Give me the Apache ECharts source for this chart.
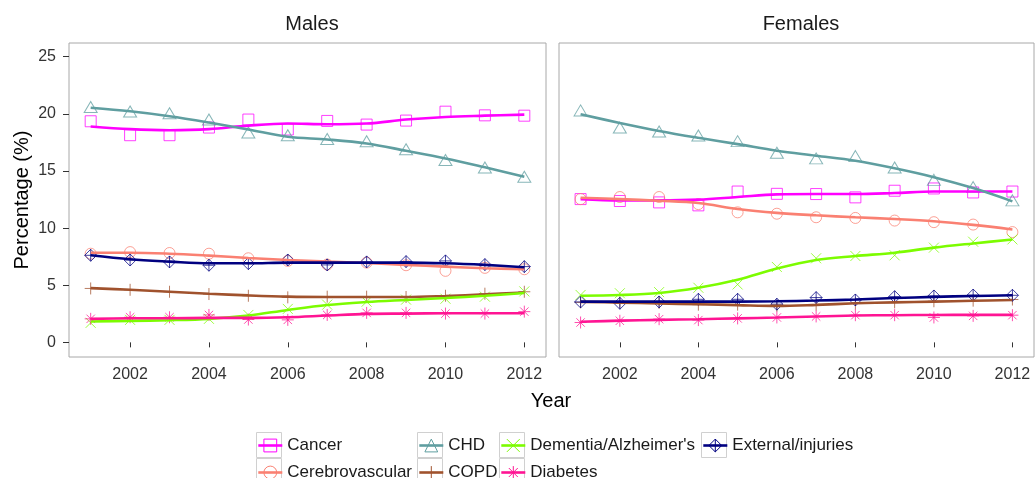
<!DOCTYPE html>
<html>
<head>
<meta charset="utf-8">
<script src="https://cdn.jsdelivr.net/npm/echarts@6/dist/echarts.min.js"></script>
<style>
  html, body { margin: 0; padding: 0; background: #fff; }
  #chart { width: 1035px; height: 478px; }
</style>
</head>
<body>
<div id="chart"></div>
<script>
var years = [2001, 2002, 2003, 2004, 2005, 2006, 2007, 2008, 2009, 2010, 2011, 2012];
var yTicks = [0, 5, 10, 15, 20, 25];
var xTicks = [2002, 2004, 2006, 2008, 2010, 2012];
var panels = ["Males", "Females"];
var causes = ["Cancer", "Cerebrovascular", "CHD", "COPD", "Dementia/Alzheimer's", "Diabetes", "External/injuries"];

// Males: observed points and the smoothed fit
var cancerM = [19.35, 18.13, 18.13, 18.8, 19.5, 18.63, 19.38, 19.06, 19.41, 20.19, 19.87, 19.84];
var cancerMFit = [18.89, 18.66, 18.57, 18.66, 18.97, 19.15, 19.09, 19.15, 19.5, 19.73, 19.84, 19.93];
var cereM = [7.76, 7.9, 7.82, 7.76, 7.36, 7.13, 6.81, 6.98, 6.75, 6.26, 6.52, 6.4];
var cereMFit = [7.85, 7.85, 7.76, 7.59, 7.39, 7.21, 7.07, 6.95, 6.78, 6.63, 6.49, 6.4];
var chdM = [20.6, 20.2, 20.05, 19.5, 18.37, 18.13, 17.8, 17.6, 16.9, 15.96, 15.3, 14.5];
var chdMFit = [20.54, 20.22, 19.79, 19.24, 18.63, 17.99, 17.76, 17.41, 16.77, 16.1, 15.32, 14.5];
var copdM = [4.72, 4.6, 4.43, 4.23, 4.08, 3.94, 4.0, 4.0, 3.97, 4.08, 4.26, 4.43];
var copdMFit = [4.75, 4.6, 4.43, 4.26, 4.11, 4.0, 3.97, 3.97, 3.97, 4.06, 4.2, 4.37];
var demM = [1.71, 1.97, 1.97, 2.06, 2.4, 2.93, 3.3, 3.56, 3.74, 3.82, 4.0, 4.46];
var demMFit = [1.83, 1.88, 1.94, 2.06, 2.35, 2.84, 3.27, 3.53, 3.71, 3.88, 4.08, 4.32];
var diabM = [2.06, 2.2, 2.2, 2.4, 2.0, 1.97, 2.4, 2.58, 2.58, 2.52, 2.52, 2.69];
var diabMFit = [2.06, 2.11, 2.11, 2.14, 2.14, 2.2, 2.35, 2.49, 2.52, 2.55, 2.55, 2.55];
var extM = [7.62, 7.21, 7.04, 6.75, 6.89, 7.21, 6.78, 7.04, 7.07, 7.13, 6.81, 6.63];
var extMFit = [7.62, 7.27, 7.07, 6.92, 6.92, 6.98, 6.98, 6.98, 6.98, 6.92, 6.78, 6.58];

// Females
var cancerF = [12.54, 12.37, 12.25, 11.99, 13.2, 13.0, 12.98, 12.69, 13.27, 13.47, 13.12, 13.2];
var cancerFFit = [12.54, 12.43, 12.43, 12.49, 12.72, 12.95, 12.98, 12.98, 13.07, 13.2, 13.2, 13.2];
var cereF = [12.54, 12.72, 12.72, 12.1, 11.38, 11.26, 10.95, 10.89, 10.66, 10.52, 10.31, 9.65];
var cereFFit = [12.66, 12.54, 12.4, 12.2, 11.67, 11.33, 11.12, 10.95, 10.8, 10.6, 10.28, 9.88];
var chdF = [20.3, 18.8, 18.45, 18.1, 17.61, 16.6, 16.1, 16.3, 15.3, 14.22, 13.59, 12.43];
var chdFFit = [19.96, 19.2, 18.5, 17.9, 17.35, 16.77, 16.34, 15.9, 15.24, 14.46, 13.5, 12.34];
var copdF = [3.5, 3.5, 3.45, 3.3, 3.3, 3.2, 3.3, 3.4, 3.5, 3.6, 3.65, 3.75];
var copdFFit = [3.54, 3.48, 3.4, 3.34, 3.26, 3.19, 3.28, 3.42, 3.5, 3.57, 3.64, 3.71];
var demF = [4.15, 4.3, 4.4, 4.78, 5.07, 6.6, 7.36, 7.56, 7.62, 8.29, 8.81, 9.01];
var demFFit = [4.08, 4.14, 4.32, 4.78, 5.48, 6.46, 7.21, 7.56, 7.85, 8.29, 8.66, 9.01];
var diabF = [1.74, 1.89, 2.03, 1.95, 2.1, 2.18, 2.27, 2.38, 2.38, 2.18, 2.32, 2.38];
var diabFFit = [1.8, 1.9, 1.97, 2.03, 2.1, 2.18, 2.27, 2.35, 2.38, 2.4, 2.41, 2.41];
var extF = [3.54, 3.42, 3.54, 3.77, 3.77, 3.34, 3.92, 3.71, 4.0, 4.06, 4.14, 4.12];
var extFFit = [3.57, 3.57, 3.57, 3.57, 3.57, 3.6, 3.66, 3.75, 3.88, 3.98, 4.06, 4.12];

var points = [
  [cancerM, cereM, chdM, copdM, demM, diabM, extM],
  [cancerF, cereF, chdF, copdF, demF, diabF, extF]
];
var fits = [
  [cancerMFit, cereMFit, chdMFit, copdMFit, demMFit, diabMFit, extMFit],
  [cancerFFit, cereFFit, chdFFit, copdFFit, demFFit, diabFFit, extFFit]
];

var colors = ["#FF00FF", "#FA8072", "#5F9EA0", "#A0522D", "#7CFC00", "#FF1493", "#000080"];
var symbols = [
  "rect",
  "circle",
  "triangle",
  "path://M5,0L5,10M0,5L10,5",                                  // plus
  "path://M0,0L10,10M10,0L0,10",                                // cross
  "path://M0,5L10,5M5,0L5,10M1.5,1.5L8.5,8.5M8.5,1.5L1.5,8.5",  // asterisk
  "path://M5,0L10,5L5,10L0,5ZM5,0L5,10M0,5L10,5"                // diamond plus
];
var symbolSizes = [11, 11, [13, 11], 12, 10, 12, 12];

var FONT = "'Liberation Sans', Arial, sans-serif";

function pairs(vals) {
  return vals.map(function (v, i) { return [years[i], v]; });
}

var series = [];
// lines first so the legend picks up the line + symbol icon
for (var p = 0; p < 2; p++) {
  causes.forEach(function (name, k) {
    series.push({
      name: name,
      type: "line",
      xAxisIndex: p,
      yAxisIndex: p,
      data: pairs(fits[p][k]),
      smooth: 0.35,
      showSymbol: false,
      symbol: symbols[k],
      symbolSize: symbolSizes[k],
      lineStyle: { color: colors[k], width: 2.6 },
      itemStyle: { color: colors[k] },
      silent: true,
      z: 3 + k * 0.01
    });
  });
}
for (var p2 = 0; p2 < 2; p2++) {
  causes.forEach(function (name, k) {
    series.push({
      name: name,
      type: "scatter",
      xAxisIndex: p2,
      yAxisIndex: p2,
      data: pairs(points[p2][k]),
      symbol: symbols[k],
      symbolSize: symbolSizes[k],
      itemStyle: {
        color: "rgba(0,0,0,0)",
        borderColor: colors[k],
        borderWidth: 1,
        opacity: 0.75
      },
      silent: true,
      z: 2 + k * 0.01
    });
  });
}

function legendItem(k) {
  return {
    name: causes[k],
    itemStyle: { color: "rgba(0,0,0,0)", borderColor: colors[k], borderWidth: 1 },
    lineStyle: { color: colors[k], width: 2.6 }
  };
}
var legendCols = [[0, 1], [2, 3], [4, 5], [6]];
var legendLeft = [257, 418, 500, 702];
var legends = legendCols.map(function (col, i) {
  return {
    orient: "vertical",
    left: legendLeft[i],
    top: 437,
    height: 60,
    padding: 0,
    itemGap: 10,
    itemWidth: 24,
    itemHeight: 16,
    selectedMode: false,
    data: col.map(legendItem),
    textStyle: { fontFamily: FONT, fontSize: 17, color: "#1a1a1a", lineHeight: 16 }
  };
});

// grey key boxes behind the legend symbols
var keyBoxes = [[256, 432], [256, 458], [417, 432], [417, 458], [499, 432], [499, 458], [701, 432]];
var graphics = keyBoxes.map(function (b) {
  return {
    type: "rect",
    shape: { x: b[0] + 0.5, y: b[1] + 0.5, width: 25, height: 25 },
    style: { fill: "#fff", stroke: "#d0d0d0", lineWidth: 1 },
    z: 0, silent: true
  };
});
graphics.push({
  type: "text", x: 22, y: 200, rotation: Math.PI / 2,
  style: { text: "Percentage (%)", font: "20px " + FONT, fill: "#000", align: "center", verticalAlign: "middle" }
});
graphics.push({
  type: "text", x: 551, y: 401,
  style: { text: "Year", font: "20px " + FONT, fill: "#000", align: "center", verticalAlign: "middle" }
});

var grids = [
  { left: 69, top: 43, width: 477, height: 314 },
  { left: 559, top: 43, width: 475, height: 314 }
];
grids.forEach(function (g) {
  g.show = true;
  g.borderColor = "#a8a8a8";
  g.borderWidth = 1;
  g.backgroundColor = "#fff";
});

var xAxes = [0, 1].map(function (i) {
  return {
    type: "value",
    gridIndex: i,
    min: 2000.45,
    max: 2012.55,
    axisLine: { show: false },
    splitLine: { show: false },
    axisTick: { show: true, length: 5, customValues: xTicks, lineStyle: { color: "#333" } },
    axisLabel: {
      customValues: xTicks, margin: 10, fontFamily: FONT, fontSize: 16, color: "#333",
      formatter: function (v) { return String(v); }
    }
  };
});
var yAxes = [0, 1].map(function (i) {
  return {
    type: "value",
    gridIndex: i,
    min: -1.28,
    max: 26.2,
    axisLine: { show: false },
    splitLine: { show: false },
    axisTick: { show: i === 0, length: 6, customValues: yTicks, lineStyle: { color: "#333" } },
    axisLabel: {
      show: i === 0, customValues: yTicks, margin: 13, fontFamily: FONT, fontSize: 16, color: "#333"
    }
  };
});

var option = {
  animation: false,
  backgroundColor: "#fff",
  title: panels.map(function (t, i) {
    return {
      text: t,
      left: i === 0 ? 307 : 796,
      top: 9,
      textAlign: "center",
      textStyle: { fontFamily: FONT, fontSize: 20, fontWeight: "normal", color: "#1a1a1a" }
    };
  }),
  legend: legends,
  grid: grids,
  xAxis: xAxes,
  yAxis: yAxes,
  graphic: graphics,
  series: series
};

var chart = echarts.init(document.getElementById("chart"), null, { renderer: "canvas" });
chart.setOption(option);
</script>
</body>
</html>
